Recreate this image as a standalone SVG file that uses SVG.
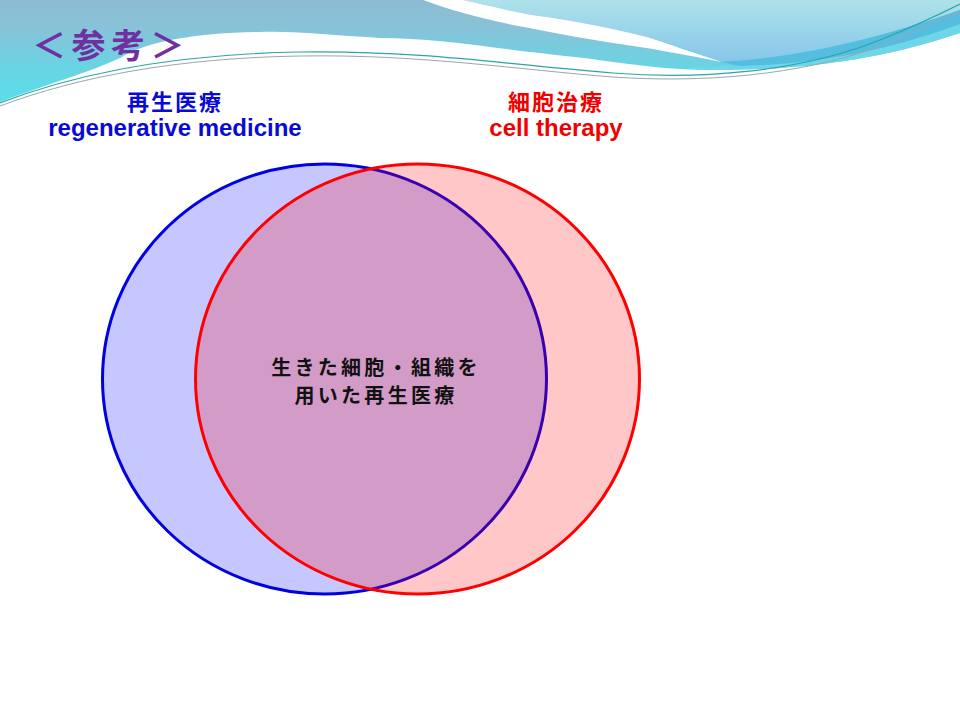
<svg xmlns="http://www.w3.org/2000/svg" width="960" height="720" viewBox="0 0 960 720">
<defs>
<linearGradient id="bandV" gradientUnits="userSpaceOnUse" x1="0" y1="0" x2="0" y2="90">
<stop offset="0" stop-color="#8bbcd2"/>
<stop offset="0.3" stop-color="#88c2d8"/>
<stop offset="0.7" stop-color="#6cd2e2"/>
<stop offset="1" stop-color="#5edbe8"/>
</linearGradient>
<linearGradient id="upperRight" gradientUnits="userSpaceOnUse" x1="0" y1="0" x2="0" y2="62">
<stop offset="0" stop-color="#aee2ea"/>
<stop offset="1" stop-color="#86c6ea"/>
</linearGradient>
<style>
.cjk{font-family:"Noto Sans CJK JP","Liberation Sans",sans-serif;font-weight:bold;}
.lat{font-family:"Liberation Sans",Arial,sans-serif;font-weight:bold;}
.blue{fill:#0a0ad6;}
.red{fill:#f00000;}
</style>
</defs>
<rect width="960" height="720" fill="#ffffff"/>
<g id="header">
<path d="M0,0 H960 V33 C890,56 820,70 713,70 C680,70 650,67 613,62 C580,57 545,54 513,50 C470,44 420,38 380,38 C340,36 300,31 260,32 C200,33 150,40 120,58 C90,72 60,80 0,102 Z" fill="url(#bandV)"/>
<path d="M463,0 C500,8 520,14 547,17 C590,24 620,30 647,37 C680,46 700,54 720,62 C800,58 880,38 960,10 V0 Z" fill="url(#upperRight)"/>
<path d="M720,66 C820,66 900,44 960,22 V33 C890,56 820,70 713,70 C700,70 690,69 680,68 Z" fill="#6dd6e8"/>
<path d="M720,62 C800,58 880,38 960,10 V24 C900,46 830,64 740,66 Z" fill="#55bde0"/>
<path d="M423,0 C450,10 480,18 513,25 C550,32 580,38 613,43 C650,48 680,54 722,62 C690,52 670,44 647,37 C620,30 590,24 547,17 C520,14 500,8 463,0 Z" fill="#ffffff"/>
<path d="M0,103 C80,72 180,54 300,52 C420,50 520,66 613,73 C700,80 800,72 880,40 C910,28 940,14 960,4" fill="none" stroke="#2aa6a6" stroke-width="1.2"/>
<path d="M0,106 C80,76 180,58 300,56 C420,54 520,70 613,77 C700,83 800,76 880,46 C910,34 940,20 960,12" fill="none" stroke="#9aa6ac" stroke-width="1"/>
</g>
<text id="title" class="cjk" x="32" y="58" font-size="34" letter-spacing="5.5" fill="#7030a0">＜参考＞</text>
<g id="node-regenerative">
<ellipse cx="324.5" cy="379" rx="222" ry="215" fill="#0000ff" fill-opacity="0.22" stroke="#0000e0" stroke-width="3"/>
<text class="cjk blue" x="175" y="110" font-size="22" letter-spacing="2" text-anchor="middle">再生医療</text>
<text class="lat blue" x="175" y="136" font-size="24" text-anchor="middle">regenerative medicine</text>
</g>
<g id="node-cell">
<ellipse cx="417.5" cy="379" rx="222" ry="215" fill="#ff0000" fill-opacity="0.22" stroke="#ff0000" stroke-width="3"/>
<text class="cjk red" x="556" y="110" font-size="22" letter-spacing="2" text-anchor="middle">細胞治療</text>
<text class="lat red" x="556" y="136" font-size="24" text-anchor="middle">cell therapy</text>
</g>
<g id="overlap-label">
<text class="cjk" x="376" y="375" font-size="20" letter-spacing="3.3" text-anchor="middle" fill="#111111">生きた細胞・組織を</text>
<text class="cjk" x="376" y="403" font-size="20" letter-spacing="3.3" text-anchor="middle" fill="#111111">用いた再生医療</text>
</g>
<g id="connectors"></g>
</svg>
